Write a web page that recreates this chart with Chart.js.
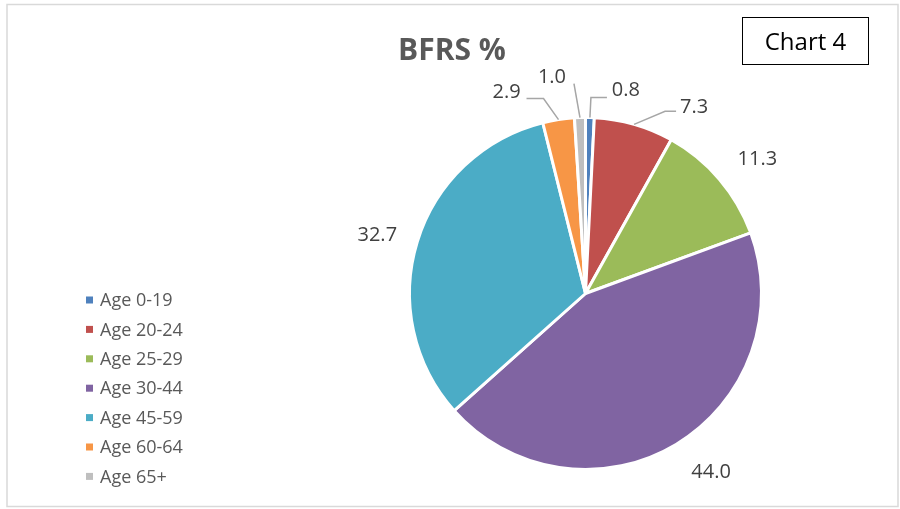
<!DOCTYPE html>
<html>
<head>
<meta charset="utf-8">
<script src="https://cdn.jsdelivr.net/npm/chart.js@4/dist/chart.umd.min.js"></script>
<style>
  body { margin: 0; background: #fff; }
  #wrap { width: 900px; height: 509px; position: relative; }
</style>
</head>
<body>
<div id="wrap"><canvas id="myChart" width="900" height="509"></canvas></div>
<script>
// chart values
const categories = ['Age 0-19', 'Age 20-24', 'Age 25-29', 'Age 30-44', 'Age 45-59', 'Age 60-64', 'Age 65+'];
const bfrsValues = [0.8, 7.3, 11.3, 44.0, 32.7, 2.9, 1.0];
const sliceColors = ['#4f81bd', '#c0504d', '#9bbb59', '#8064a2', '#4bacc6', '#f79646', '#bfbfbf'];

const chartTitle = 'BFRS %';
const chartTag = 'Chart 4';

// where each value label sits, relative to the slice's outer edge
const labelOffsets = [[36, -28], [60, -18], [38, -21], [35, 27], [-40, -7], [-52, -28], [-28, -41.5]];
// leader line points, relative to the slice's outer edge (null = none)
const leaderLines = [
	[[1, -20], [17, -20]],
	[[31, -13], [42, -13]],
	null,
	null,
	null,
	[[-15, -21], [-32, -21]],
	[[-6, -34]]
];

const FONT = '"Open Sans", "DejaVu Sans", sans-serif';

const extrasPlugin = {
	id: 'extras',
	afterDatasetsDraw(chart) {
		const ctx = chart.ctx;
		const meta = chart.getDatasetMeta(0);
		ctx.save();

		// leader lines + value labels
		meta.data.forEach((arc, i) => {
			const p = arc.getProps(['x', 'y', 'startAngle', 'endAngle', 'outerRadius']);
			const mid = (p.startAngle + p.endAngle) / 2;
			const ex = p.x + Math.cos(mid) * p.outerRadius;
			const ey = p.y + Math.sin(mid) * p.outerRadius;
			if (leaderLines[i]) {
				ctx.beginPath();
				ctx.strokeStyle = '#a6a6a6';
				ctx.lineWidth = 1.5;
				ctx.moveTo(ex, ey);
				leaderLines[i].forEach(pt => ctx.lineTo(ex + pt[0], ey + pt[1]));
				ctx.stroke();
			}
			ctx.fillStyle = '#404040';
			ctx.font = '20px ' + FONT;
			ctx.textAlign = 'center';
			ctx.textBaseline = 'middle';
			ctx.fillText(bfrsValues[i].toFixed(1), ex + labelOffsets[i][0], ey + labelOffsets[i][1] + 1);
		});

		// title
		ctx.fillStyle = '#595959';
		ctx.font = 'bold 30px ' + FONT;
		ctx.textAlign = 'center';
		ctx.textBaseline = 'middle';
		ctx.fillText(chartTitle, 452, 51);

		// chart tag box
		ctx.strokeStyle = '#000';
		ctx.lineWidth = 1;
		ctx.strokeRect(742.5, 17.5, 126, 47);
		ctx.fillStyle = '#000';
		ctx.font = '24px ' + FONT;
		ctx.fillText(chartTag, 805.5, 43);

		// legend
		ctx.font = '18px ' + FONT;
		ctx.textAlign = 'left';
		categories.forEach((c, i) => {
			const y = 300 + i * 29.4;
			ctx.fillStyle = sliceColors[i];
			ctx.fillRect(86, y - 3.5, 7, 7);
			ctx.fillStyle = '#595959';
			ctx.fillText(c, 100, y + 1);
		});

		// outer frame
		ctx.strokeStyle = '#d9d9d9';
		ctx.lineWidth = 1.5;
		ctx.strokeRect(7, 4.5, 891, 502);
		ctx.restore();
	}
};

const data = {
	labels: categories,
	datasets: [{
		label: chartTitle,
		data: bfrsValues,
		backgroundColor: sliceColors,
		borderColor: '#ffffff',
		borderWidth: 3
	}]
};

const config = {
	type: 'pie',
	data: data,
	options: {
		responsive: false,
		animation: false,
		layout: {
			padding: { left: 408, right: 137, top: 116, bottom: 38 }
		},
		plugins: {
			legend: { display: false },
			title: { display: false },
			tooltip: { enabled: false }
		}
	},
	plugins: [extrasPlugin]
};

const myChart = new Chart(document.getElementById('myChart'), config);
</script>
</body>
</html>
